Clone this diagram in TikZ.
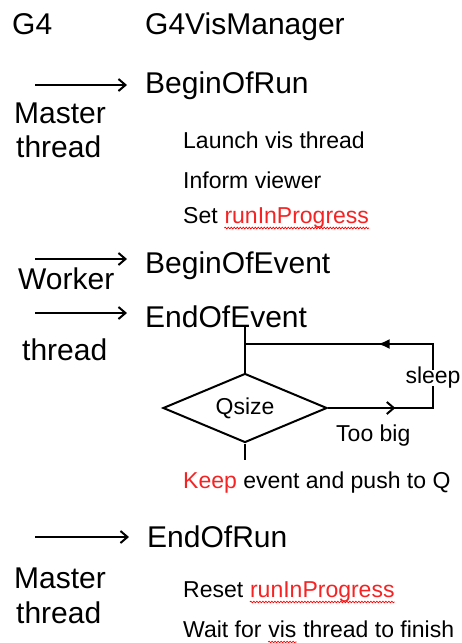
\documentclass[tikz,border=0pt]{standalone}
\usepackage{fontspec}
\setmainfont{Liberation Sans}
\usepackage{tikz}
\usetikzlibrary{shapes.geometric,arrows.meta,positioning,calc,decorations.markings,decorations.pathmorphing}
\definecolor{keepred}{RGB}{245,35,35}

\begin{document}
\begin{tikzpicture}[x=1pt,y=-1pt,
    stage/.style={anchor=base west,inner sep=0pt,font=\fontsize{30}{34}\selectfont},
    note/.style={anchor=base west,inner sep=0pt,font=\fontsize{23}{26}\selectfont},
    call/.style={line width=2pt,-{Straight Barb[length=7pt,width=12pt]},shorten >=18pt},
    flow/.style={line width=2pt},
    wavy/.style={red,line width=0.7pt,decorate,decoration={snake,amplitude=0.8pt,segment length=3pt}},
    test/.style={diamond,draw,line width=2pt,aspect=2.4,inner sep=0pt,
        minimum width=164pt,minimum height=69pt,font=\fontsize{23}{26}\selectfont}]
    \useasboundingbox (0,0) rectangle (462,643);

    % Headings
    \node[stage] (g4) at (12,34) {G4};
    \node[stage] (vism) at (145,34) {G4VisManager};

    % Begin of run
    \node[stage] (bor) at (145,93) {BeginOfRun};
    \node[stage] (mas1) at (14,123) {Master};
    \node[stage] (thr1) at (16,157) {thread};
    \node[note] (launch) at (183,148) {Launch vis thread};
    \node[note] (inform) at (183,188) {Inform viewer};
    \node[note] (set) at (183,223) {Set};
    \node[note,text=keepred,base right=6.4pt of set] (rip1) {runInProgress};

    % Events
    \node[stage] (boe) at (145,273) {BeginOfEvent};
    \node[stage] (work) at (18,289) {Worker};
    \node[stage] (eoe) at (145,327) {EndOfEvent};
    \node[stage] (thr2) at (22,360) {thread};

    % Queue test and sleep loop
    \node[test] (q) at (245,408) {Qsize};
    \node[note,anchor=center] (sleep) at (433,378) {sleep};
    \node[note] (big) at (336,441) {Too big};
    \node[note] (keep) at (183,488) {\textcolor{keepred}{Keep} event and push to Q};
    \coordinate (join) at (245,344);

    % End of run
    \node[stage] (eor) at (147,547) {EndOfRun};
    \node[stage] (mas2) at (14,588) {Master};
    \node[stage] (thr3) at (16,623) {thread};
    \node[note] (reset) at (183,597) {Reset};
    \node[note,text=keepred,base right=6.4pt of reset] (rip2) {runInProgress};
    \node[note] (waitfor) at (183,637) {Wait for};
    \node[note,base right=6.4pt of waitfor] (vis) {vis};
    \node[note,base right=6.4pt of vis] (finish) {thread to finish};

    % Calls into the manager
    \coordinate (c1) at (35,85);
    \coordinate (c2) at (35,259);
    \coordinate (c3) at (35,313);
    \coordinate (c4) at (35,537);
    \draw[call] (c1) -- (c1 -| bor.west);
    \draw[call] (c2) -- (c2 -| boe.west);
    \draw[call] (c3) -- (c3 -| eoe.west);
    \draw[call] (c4) -- (c4 -| eor.west);

    \draw[flow] (eoe.south -| join) -- (q.north);
    \draw[flow,shorten >=11pt] (q.south) -- (q.south |- keep.north);
    \draw[flow,decoration={markings,mark=at position 0.53 with {\arrow{Straight Barb[length=7pt,width=12pt]}}},
        postaction={decorate}] (q.east) -| ([yshift=3pt]sleep.south);
    \draw[flow,decoration={markings,mark=at position 0.38 with {\arrow{Latex[length=12pt,width=10pt]}}},
        postaction={decorate}] ([yshift=-3pt]sleep.north) |- (join);

    % Spelling marks
    \foreach \w in {rip1,rip2,vis}
        \draw[wavy] ([yshift=-5pt]\w.base west) -- ([yshift=-5pt]\w.base east);
\end{tikzpicture}
\end{document}
